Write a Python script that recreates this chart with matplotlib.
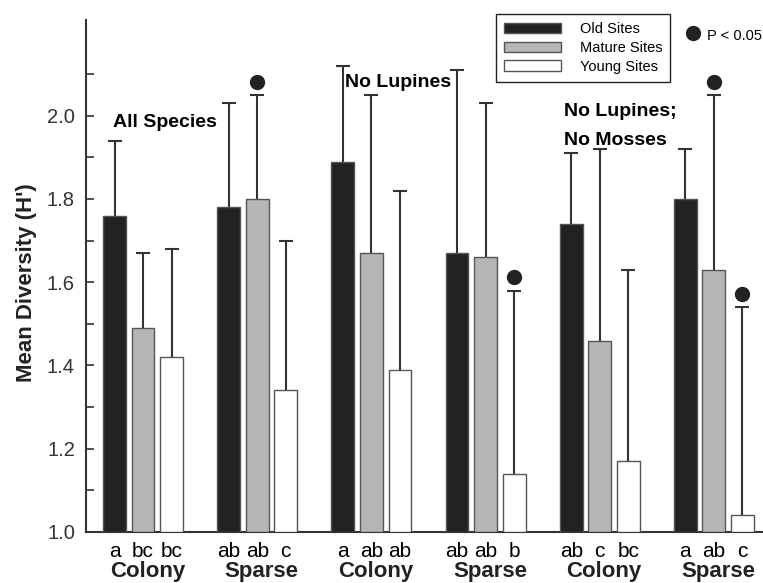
import numpy as np
import matplotlib
matplotlib.use("Agg")
import matplotlib.pyplot as plt
import matplotlib.transforms as mtransforms

plt.rcParams['font.family'] = ['Liberation Sans', 'DejaVu Sans']

# Mean diversity per group (Old, Mature, Young)
groups = ['Colony', 'Sparse', 'Colony', 'Sparse', 'Colony', 'Sparse']
old_mean = [1.76, 1.78, 1.89, 1.67, 1.74, 1.80]
mature_mean = [1.49, 1.80, 1.67, 1.66, 1.46, 1.63]
young_mean = [1.42, 1.34, 1.39, 1.14, 1.17, 1.04]

# top of upper error bar
old_top = [1.94, 2.03, 2.12, 2.11, 1.91, 1.92]
mature_top = [1.67, 2.05, 2.05, 2.03, 1.92, 2.05]
young_top = [1.68, 1.70, 1.82, 1.58, 1.63, 1.54]

# P < 0.05 markers
old_sig = [0, 0, 0, 0, 0, 0]
mature_sig = [0, 1, 0, 0, 0, 1]
young_sig = [0, 0, 0, 1, 0, 1]

letters = [['a', 'bc', 'bc'], ['ab', 'ab', 'c'], ['a', 'ab', 'ab'],
           ['ab', 'ab', 'b'], ['ab', 'c', 'bc'], ['a', 'ab', 'c']]

series_names = ['Old Sites', 'Mature Sites', 'Young Sites']
means = [old_mean, mature_mean, young_mean]
tops = [old_top, mature_top, young_top]
sigs = [old_sig, mature_sig, young_sig]
colors = ['#222222', '#b5b5b5', '#ffffff']
line_col = '#333333'

fig = plt.figure(figsize=(7.63, 5.83), dpi=100)
ax = fig.add_axes([0.1127, 0.0875, 0.8873, 0.8782])

base = np.arange(len(groups)) * 4
for i in range(3):
    x = base + i
    m = np.array(means[i])
    t = np.array(tops[i])
    eb = ax.errorbar(x, m, yerr=[np.zeros_like(m), t - m], fmt='none', ecolor=line_col,
                     elinewidth=1.5, capsize=5, capthick=1.5, zorder=2)
    eb[1][0].set_visible(False)  # no cap at the bar top
    ax.bar(x, m - 1.0, bottom=1.0, width=0.8, color=colors[i], edgecolor='#555555',
           linewidth=1.0, label=series_names[i], zorder=3)
    s = np.array(sigs[i], dtype=bool)
    ax.plot(x[s], t[s] + 0.032, 'o', color='#222222', ms=10, zorder=4)

ax.set_xlim(-1, 22.72)
ax.set_ylim(1.0, 2.23)
ax.set_yticks(np.arange(1.0, 2.01, 0.2))
ax.set_yticklabels(['%.1f' % v for v in np.arange(1.0, 2.01, 0.2)], fontsize=14.5, color='#333333')
ax.set_yticks(np.arange(1.1, 2.15, 0.2), minor=True)
ax.tick_params(axis='y', which='both', direction='in', length=6, width=1.2, color=line_col, pad=8)

xpos = [4 * g + i for g in range(len(groups)) for i in range(3)]
ax.set_xticks(xpos)
ax.set_xticklabels([l for row in letters for l in row], fontsize=15)
ax.tick_params(axis='x', length=0, pad=7)

trans = mtransforms.blended_transform_factory(ax.transData, ax.transAxes)
for g, name in enumerate(groups):
    ax.text(base[g] + 1.15, -0.077, name, transform=trans, ha='center', va='center',
            fontsize=16, fontweight='bold', color='#222222')

for side in ['top', 'right']:
    ax.spines[side].set_visible(False)
for side in ['left', 'bottom']:
    ax.spines[side].set_linewidth(1.5)
    ax.spines[side].set_color(line_col)

fig.text(0.035, 0.5146, "Mean Diversity (H')", rotation=90, ha='center', va='center',
         fontsize=16, fontweight='bold', color='#222222')

ax.text(-0.05, 1.983, 'All Species', fontsize=14, fontweight='bold', va='center')
ax.text(8.09, 2.08, 'No Lupines', fontsize=14, fontweight='bold', va='center')
ax.text(15.74, 2.01, 'No Lupines;', fontsize=14, fontweight='bold', va='center')
ax.text(15.74, 1.94, 'No Mosses', fontsize=14, fontweight='bold', va='center')

leg = ax.legend(loc='upper left', bbox_to_anchor=(0.6056, 1.0117), fontsize=10.5,
                frameon=True, fancybox=False, edgecolor='#222222', framealpha=1,
                handlelength=3.9, handleheight=0.7, labelspacing=0.33,
                borderpad=0.55, handletextpad=1.3, borderaxespad=0)
leg.get_frame().set_linewidth(1.0)

ax.plot([0.8966], [0.975], 'o', color='#222222', ms=10, transform=ax.transAxes, clip_on=False)
ax.text(0.917, 0.968, 'P < 0.05', transform=ax.transAxes, fontsize=10.5, va='center')

fig.savefig('out.png', dpi=100)
